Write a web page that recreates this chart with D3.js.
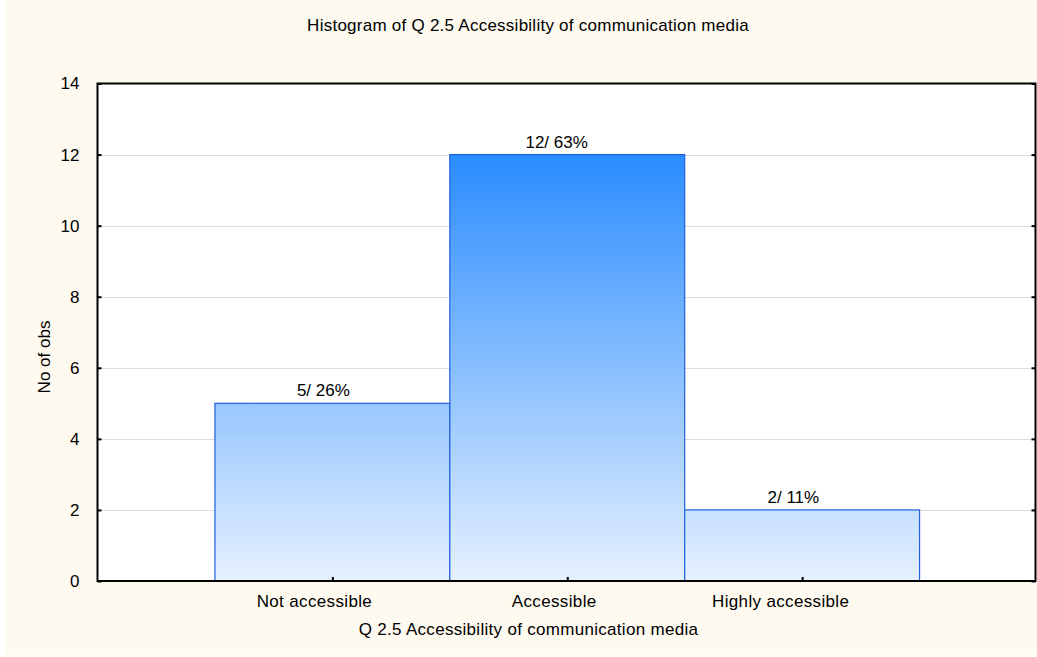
<!DOCTYPE html>
<html>
<head>
<meta charset="utf-8">
<script src="https://cdn.jsdelivr.net/npm/d3@7"></script>
<style>
  html, body { margin: 0; padding: 0; background: #ffffff; }
  svg { display: block; font-family: "Liberation Sans", Arial, sans-serif; }
</style>
</head>
<body>
<svg id="chart" width="1037" height="657"></svg>
<script>
const categories = ["Not accessible", "Accessible", "Highly accessible"];
const counts = [5, 12, 2];
const percents = [26, 63, 11];
const yTicks = [0, 2, 4, 6, 8, 10, 12, 14];
const chartTitle = "Histogram of Q 2.5 Accessibility of communication media";
const xTitle = "Q 2.5 Accessibility of communication media";
const yTitle = "No of obs";

const svg = d3.select("#chart");
const W = 1037, H = 657;
const m = { left: 97.5, right: 1035.5, top: 83.5, bottom: 581 };
const FONT = "Liberation Sans, Arial, sans-serif";

svg.append("rect").attr("x", 6).attr("y", 0).attr("width", W - 6).attr("height", H - 2)
  .attr("fill", "#fffaf0");

svg.append("rect").attr("x", m.left).attr("y", m.top)
  .attr("width", m.right - m.left).attr("height", m.bottom - m.top).attr("fill", "#ffffff");

const x = d3.scaleLinear().domain([0, categories.length + 1]).range([m.left, m.right + 1.5]);
const y = d3.scaleLinear().domain([0, 14]).range([m.bottom, m.top]);

// grid lines
svg.append("g").selectAll("line").data(yTicks.filter(t => t > 0 && t < 14)).join("line")
  .attr("x1", m.left).attr("x2", m.right)
  .attr("y1", d => Math.round(y(d)) + 0.5).attr("y2", d => Math.round(y(d)) + 0.5)
  .attr("stroke", "#dcdcdc").attr("stroke-width", 1);

// gradient
const defs = svg.append("defs");
const grad = defs.append("linearGradient").attr("id", "barGrad")
  .attr("gradientUnits", "userSpaceOnUse")
  .attr("x1", 0).attr("x2", 0).attr("y1", y(0)).attr("y2", y(12));
grad.append("stop").attr("offset", "0%").attr("stop-color", "#e6f1ff");
grad.append("stop").attr("offset", "100%").attr("stop-color", "#2a8cff");

// bars
const data = categories.map((c, i) => ({ c, i, v: counts[i], p: percents[i] }));
svg.append("g").selectAll("rect").data(data).join("rect")
  .attr("x", d => x(d.i + 0.5))
  .attr("width", d => x(d.i + 1.5) - x(d.i + 0.5))
  .attr("y", d => y(d.v))
  .attr("height", d => y(0) - y(d.v))
  .attr("fill", "url(#barGrad)")
  .attr("stroke", "#1f60dc").attr("stroke-width", 1.2);

// bar labels (slightly left of centre, as in the original rendering)
svg.append("g").selectAll("text").data(data).join("text")
  .attr("x", d => x(d.i + 1))
  .attr("y", d => y(d.v) - 7)
  .attr("text-anchor", "middle")
  .attr("font-size", 17)
  .attr("fill", "#000")
  .text(d => `${d.v}/ ${d.p}%`)
  .attr("dx", function () { return -0.17 * this.getComputedTextLength(); });

// axes frame
const frame = svg.append("g").attr("stroke", "#000").attr("stroke-width", 2).attr("fill", "none");
frame.append("rect").attr("x", m.left).attr("y", m.top)
  .attr("width", m.right - m.left).attr("height", m.bottom - m.top);

// left axis
const yAxis = d3.axisLeft(y).tickValues(yTicks).tickSize(-4).tickPadding(18);
const gy = svg.append("g").attr("transform", `translate(${m.left},0)`).call(yAxis);
gy.select(".domain").remove();
gy.selectAll(".tick line").attr("stroke", "#000").attr("stroke-width", 2);
gy.selectAll(".tick text").attr("font-size", 17).attr("font-family", FONT).attr("fill", "#000");

// right axis ticks
const yAxisR = d3.axisRight(y).tickValues(yTicks).tickSize(-4).tickFormat("");
const gyr = svg.append("g").attr("transform", `translate(${m.right},0)`).call(yAxisR);
gyr.select(".domain").remove();
gyr.selectAll(".tick line").attr("stroke", "#000").attr("stroke-width", 2);

// bottom axis
const xAxis = d3.axisBottom(x).tickValues(categories.map((c, i) => i + 1))
  .tickFormat((d) => categories[d - 1]).tickSize(-4).tickPadding(14);
const gx = svg.append("g").attr("transform", `translate(0,${m.bottom})`).call(xAxis);
gx.select(".domain").remove();
gx.selectAll(".tick line").attr("stroke", "#000").attr("stroke-width", 2);
gx.selectAll(".tick text").attr("font-size", 17).attr("font-family", FONT).attr("fill", "#000")
  .attr("letter-spacing", 0.35)
  .attr("dx", function () { return -0.16 * this.getComputedTextLength(); });

// titles
svg.append("text").attr("x", 528).attr("y", 31).attr("text-anchor", "middle")
  .attr("font-size", 17).attr("letter-spacing", 0.25).attr("fill", "#000").text(chartTitle);
svg.append("text").attr("x", 528.5).attr("y", 635).attr("text-anchor", "middle")
  .attr("font-size", 17).attr("letter-spacing", 0.3).attr("fill", "#000").text(xTitle);
svg.append("text").attr("transform", "translate(50,357) rotate(-90)").attr("text-anchor", "middle")
  .attr("font-size", 17).attr("fill", "#000").text(yTitle);
</script>
</body>
</html>
